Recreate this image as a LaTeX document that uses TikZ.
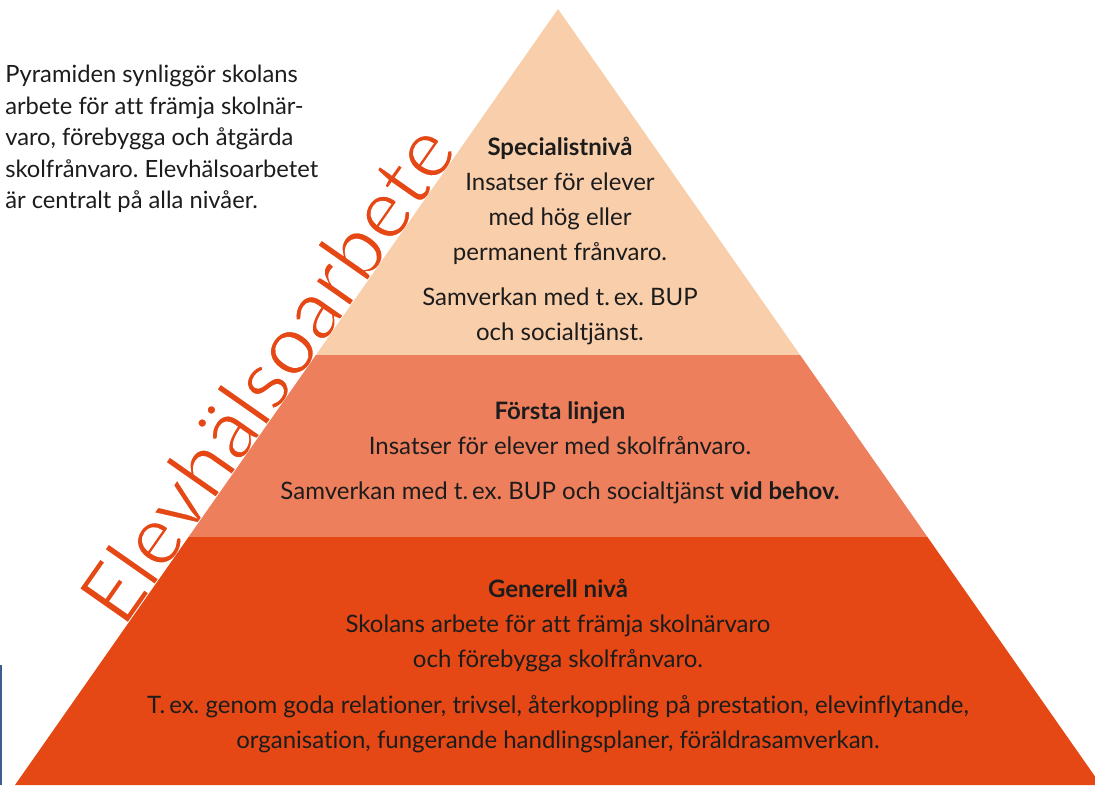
\documentclass[tikz,border=0pt]{standalone}
\usepackage{fontspec}
\setmainfont{Lato}[Ligatures=NoCommon]
\usetikzlibrary{calc,positioning}
\definecolor{topband}{HTML}{F9CEAB}
\definecolor{midband}{HTML}{EE7F5C}
\definecolor{lowband}{HTML}{E54815}
\definecolor{bodytext}{HTML}{1C1C1C}
\definecolor{edgeblue}{HTML}{3B5E8F}
% thin letters: outline them in white
\newcommand{\thinstroke}[1]{\special{pdf:literal direct 1 1 1 RG 1.5 w 2 Tr}#1\special{pdf:literal direct 0 Tr}}
\tikzset{
  leveltext/.style={align=center, text=bodytext, inner sep=0pt,
    font=\fontsize{18}{26.25}\selectfont},
  introtext/.style={align=left, text=bodytext, inner sep=0pt, anchor=west,
    font=\fontsize{17.8}{23.6}\selectfont},
  sidetext/.style={text=lowband, inner sep=0pt, anchor=base west, rotate=55,
    font=\fontsize{63}{63}\selectfont}
}

\begin{document}
\frenchspacing
\begin{tikzpicture}[x=0.75pt,y=-0.75pt]
\useasboundingbox (0,0) rectangle (1095,785);
\clip (0,0) rectangle (1095,785);

% pyramid corners
\coordinate (apex) at (558,9);
\coordinate (bl) at (15,785);
\coordinate (br) at (1101,785);
\coordinate (l1) at ($(apex)!0.4459!(bl)$);
\coordinate (r1) at ($(apex)!0.4459!(br)$);
\coordinate (l2) at ($(apex)!0.6804!(bl)$);
\coordinate (r2) at ($(apex)!0.6804!(br)$);

% side label
\node[sidetext] (side) at ($(apex)!0.80!(bl)$) {\thinstroke{Elevhälsoarbete}};

% bands
\fill[topband] (apex) -- (r1) -- (l1) -- cycle;
\fill[midband] (l1) -- (r1) -- (r2) -- (l2) -- cycle;
\fill[lowband] (l2) -- (r2) -- (br) -- (bl) -- cycle;

% edge mark at the left
\draw[edgeblue, line width=1.5pt] (1,665) -- (1,785);

% intro
\node[introtext] (intro) at (5,139) {Pyramiden synliggör skolans\\
  arbete för att främja skolnär-\\
  varo, förebygga och åtgärda\\
  skolfrånvaro. Elevhälsoarbetet\\
  är centralt på alla nivåer.};

% specialistnivå
\node[leveltext] (spec) at (560,200.5) {\textbf{Specialistnivå}\\
  Insatser för elever\\
  med hög eller\\
  permanent frånvaro.};
\node[leveltext] (specb) at (560,316.5) {Samverkan med t.\,ex. BUP\\
  och socialtjänst.};

% första linjen
\node[leveltext] (first) at (560,428.5) {\textbf{Första linjen}\\
  Insatser för elever med skolfrånvaro.};
\node[leveltext] (firstb) at (560,493) {Samverkan med t.\,ex. BUP och socialtjänst \textbf{vid behov.}};

% generell nivå
\node[leveltext] (gen) at (558,625.7) {\textbf{Generell nivå}\\
  Skolans arbete för att främja skolnärvaro\\
  och förebygga skolfrånvaro.};
\node[leveltext] (genb) at (558,724) {T.\,ex. genom goda relationer, trivsel, återkoppling på prestation, elevinflytande,\\
  organisation, fungerande handlingsplaner, föräldrasamverkan.};
\end{tikzpicture}
\end{document}
